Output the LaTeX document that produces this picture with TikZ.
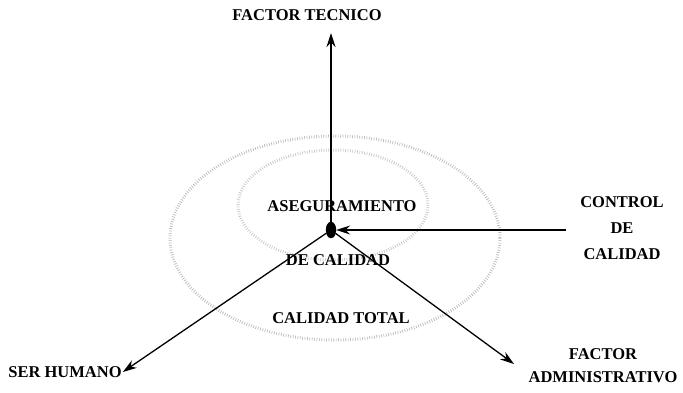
\documentclass[tikz,border=0pt]{standalone}
\usepackage{fontspec}
\setmainfont{Liberation Serif}
\usetikzlibrary{arrows.meta,shapes.geometric}

\begin{document}
\begin{tikzpicture}[x=1pt, y=-1pt,
  every node/.style={font=\bfseries\fontsize{16.5}{18}\selectfont, inner sep=1pt},
  lbl/.style={align=center},
  arr/.style={-{Stealth[length=14pt,width=9pt]}, line width=1.3pt, color=black},
  ring/.style={draw=black!30, line width=3pt, dash pattern=on 0.6pt off 1.8pt},
]
\useasboundingbox (0,0) rectangle (683,392);
% ---- shaded rings round the centre ----
\draw[ring] (335,238) ellipse [x radius=165, y radius=102];
\draw[ring, draw=black!25] (333,205) ellipse [x radius=95, y radius=55];
% ---- centre point and its labels ----
\node[draw, fill=black, ellipse, minimum width=10pt, minimum height=16pt, inner sep=0pt] at (331,230) (dot) {};
\node[lbl] at (342,206) (aseg)  {ASEGURAMIENTO};
\node[lbl] at (338,260) (decal) {DE CALIDAD};
\node[lbl] at (341,318) (total) {CALIDAD TOTAL};
% ---- outer factors ----
\node[lbl] at (307,15)  (tecnico) {FACTOR TECNICO};
\node[lbl, font=\bfseries\fontsize{16.5}{26}\selectfont] at (622,228) (control) {CONTROL\\DE\\CALIDAD};
\node[lbl] at (65,372)  (humano)  {SER HUMANO};
\node[lbl, font=\bfseries\fontsize{16.5}{23}\selectfont] at (603,366) (admin) {FACTOR\\ADMINISTRATIVO};
\coordinate (tecTip) at (331,33);
\coordinate (ctrlEnd) at (566,230);
\coordinate (admTip) at (514,364);
% ---- connectors ----
\draw[arr] (dot) -- (tecTip);
\draw[arr] (ctrlEnd) -- (dot);
\draw[arr] (dot) -- (humano.east);
\draw[arr] (dot) -- (admTip);
\end{tikzpicture}
\end{document}
